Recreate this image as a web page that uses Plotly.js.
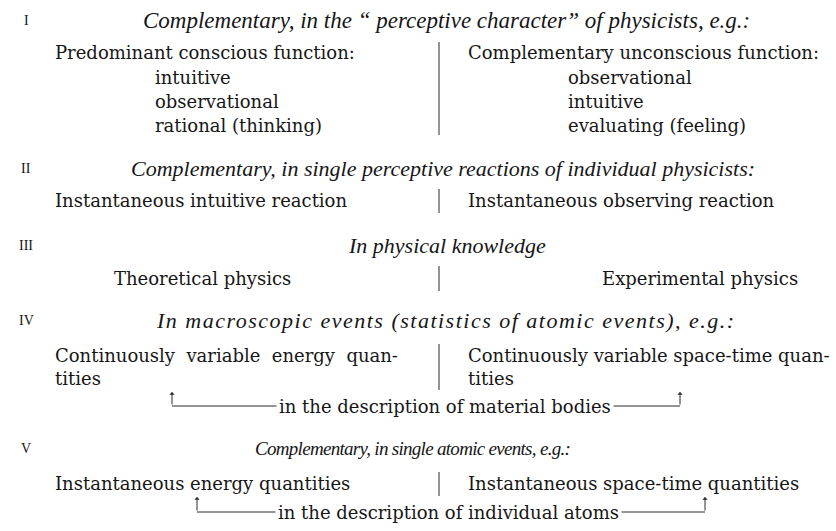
<!DOCTYPE html>
<html>
<head>
<meta charset="utf-8">
<script src="https://cdn.plot.ly/plotly-3.0.1.min.js"></script>
<style>
  html, body { margin: 0; padding: 0; background: #ffffff; }
  #chart { width: 836px; height: 531px; }
</style>
</head>
<body>
<div id="chart"></div>
<script>
// ---- content (text of the scheme) ----
const numerals = ['I', 'II', 'III', 'IV', 'V'];
const headings = [
  'Complementary, in the \u201c perceptive character\u201d of physicists, e.g.:',
  'Complementary, in single perceptive reactions of individual physicists:',
  'In physical knowledge',
  'In macroscopic events (statistics of atomic events), e.g.:',
  'Complementary, in single atomic events, e.g.:'
];
const consciousTitle = 'Predominant conscious function:';
const consciousFunctions = ['intuitive', 'observational', 'rational (thinking)'];
const unconsciousTitle = 'Complementary unconscious function:';
const unconsciousFunctions = ['observational', 'intuitive', 'evaluating (feeling)'];
const reactions = ['Instantaneous intuitive reaction', 'Instantaneous observing reaction'];
const knowledge = ['Theoretical physics', 'Experimental physics'];
const macroLeft = ['Continuously\u00a0 variable\u00a0 energy\u00a0 quan-', 'tities'];
const macroRight = ['Continuously variable space-time quan-', 'tities'];
const atomic = ['Instantaneous energy quantities', 'Instantaneous space-time quantities'];
const links = ['in the description of material bodies', 'in the description of individual atoms'];

// ---- styling / layout helpers ----
const INK = '#161616';
const ROMAN = {family: 'DejaVu Serif, serif', size: 18, color: INK};
const NUM = {family: 'Liberation Serif, serif', size: 14, color: INK};
const headSizes = [23, 22, 22, 22, 19];
const headTracking = [0, 0, 0, 1.5, -0.7];   // letter spacing (px) as typeset

const annotations = [];
const shapes = [];

function note(text, x, y, font, xanchor, extra) {
  annotations.push(Object.assign({
    text: text, x: x, y: y, xref: 'x', yref: 'y',
    xanchor: xanchor || 'left', yanchor: 'middle',
    showarrow: false, font: font
  }, extra || {}));
}
function vline(x, y0, y1) {
  shapes.push({type: 'line', xref: 'x', yref: 'y', x0: x, x1: x, y0: y0, y1: y1,
               line: {color: '#2a2a2a', width: 1}});
}
function hline(x0, x1, y) {
  shapes.push({type: 'line', xref: 'x', yref: 'y', x0: x0, x1: x1, y0: y, y1: y,
               line: {color: '#2a2a2a', width: 1}});
}
function upArrow(x, yBase, yTip) {
  annotations.push({text: '', x: x, y: yTip, ax: x, ay: yBase, xref: 'x', yref: 'y',
    axref: 'x', ayref: 'y', showarrow: true, arrowhead: 1, arrowsize: 0.9,
    arrowwidth: 1, arrowcolor: '#2a2a2a', standoff: 0, startstandoff: 0});
}

// row positions
const rowHead = [20, 168, 245, 320, 448];
const headX = [446, 443, 447, 446, 412];
const numX = 26;
const leftX = 53, subLeftX = 153, rightX = 466, subRightX = 566, divX = 439;

numerals.forEach((n, i) => note(n, numX, rowHead[i], NUM, 'center'));
headings.forEach((h, i) => {
  const txt = headTracking[i] ? '<span style="letter-spacing:' + headTracking[i] + 'px">' + h + '</span>' : h;
  note(txt, headX[i], rowHead[i],
    {family: 'Liberation Serif, serif', size: headSizes[i], color: INK, style: 'italic'}, 'center');
});

// I
note(consciousTitle, leftX, 52, ROMAN);
note(unconsciousTitle, rightX, 52, ROMAN);
consciousFunctions.forEach((t, i) => note(t, subLeftX, 77 + i * 24, ROMAN));
unconsciousFunctions.forEach((t, i) => note(t, subRightX, 77 + i * 24, ROMAN));
vline(divX, 42, 135);

// II
note(reactions[0], leftX, 200, ROMAN);
note(reactions[1], rightX, 200, ROMAN);
vline(divX, 189, 213);

// III
note(knowledge[0], 112, 278, ROMAN);
note(knowledge[1], 600, 278, ROMAN);
vline(divX, 266, 291);

// IV
macroLeft.forEach((t, i) => note(t, leftX, 355 + i * 23, ROMAN));
macroRight.forEach((t, i) => note(t, rightX, 355 + i * 23, ROMAN));
vline(divX, 344, 390);
hline(172, 680, 406);
upArrow(172, 406, 392);
upArrow(680, 406, 392);
note(links[0], 445, 406, ROMAN, 'center', {bgcolor: '#ffffff', borderpad: 2});

// V
note(atomic[0], leftX, 483, ROMAN);
note(atomic[1], rightX, 483, ROMAN);
vline(divX, 472, 496);
hline(197, 705, 512);
upArrow(197, 512, 497);
upArrow(705, 512, 497);
note(links[1], 448, 512, ROMAN, 'center', {bgcolor: '#ffffff', borderpad: 2});

const layout = {
  width: 836, height: 531,
  margin: {l: 0, r: 0, t: 0, b: 0, pad: 0},
  paper_bgcolor: '#ffffff', plot_bgcolor: '#ffffff',
  showlegend: false,
  xaxis: {range: [0, 836], visible: false, fixedrange: true},
  yaxis: {range: [531, 0], visible: false, fixedrange: true},
  annotations: annotations,
  shapes: shapes
};

Plotly.newPlot('chart', [{x: [], y: [], type: 'scatter', hoverinfo: 'skip'}], layout,
  {staticPlot: true, displayModeBar: false});
</script>
</body>
</html>
